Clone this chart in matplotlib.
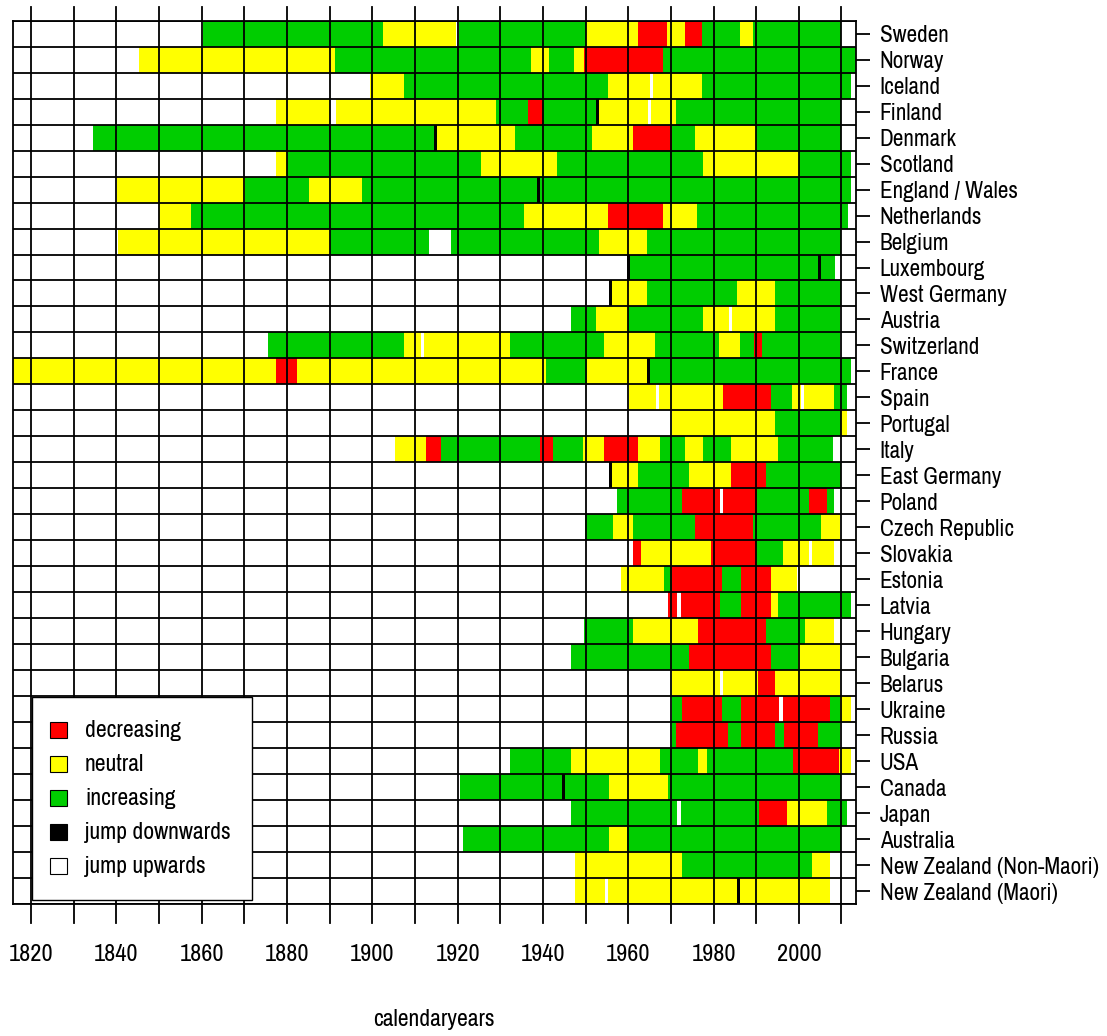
import os
import numpy as np
import matplotlib
matplotlib.use("Agg")
import matplotlib.pyplot as plt
from matplotlib import font_manager
from matplotlib.font_manager import FontProperties
from matplotlib.patches import Rectangle


def pick_narrow_font():
    # narrowest regular sans face on the system, else plain Liberation Sans
    order = {'narrow': 0, 'condensed': 1, 'extra-condensed': 2, 'semi-condensed': 3}
    best = None
    for f in font_manager.fontManager.ttflist:
        base = os.path.basename(f.fname).lower()
        if any(k in base for k in ('mono', 'serif', 'cjk', 'bold', 'italic', 'oblique',
                                    'light', 'thin', 'medium', 'black', 'semi', 'extrabold')
               ) and 'semicondensed' not in base:
            continue
        if f.style != 'normal' or f.weight not in (400, 'normal', 'regular'):
            continue
        if 'narrow' in base:
            rank = order['narrow']
        elif f.stretch in order:
            rank = order[f.stretch]
        else:
            continue
        if best is None or rank < best[0]:
            best = (rank, f.fname)
    if best:
        return FontProperties(fname=best[1])
    return FontProperties(family=['Liberation Sans', 'DejaVu Sans'])


countries = ["Sweden", "Norway", "Iceland", "Finland", "Denmark", "Scotland",
             "England / Wales", "Netherlands", "Belgium", "Luxembourg",
             "West Germany", "Austria", "Switzerland", "France", "Spain",
             "Portugal", "Italy", "East Germany", "Poland", "Czech Republic",
             "Slovakia", "Estonia", "Latvia", "Hungary", "Bulgaria", "Belarus",
             "Ukraine", "Russia", "USA", "Canada", "Japan", "Australia",
             "New Zealand (Non-Maori)", "New Zealand (Maori)"]

# trend periods per country: (start year, state); state None closes the period
# d = decreasing, n = neutral, i = increasing
periods = [
    [(1860.4, 'i'), (1902.4, 'n'), (1920.4, 'i'), (1950.2, 'n'), (1962.3, 'd'), (1969.1, 'n'),
     (1973.4, 'd'), (1977.4, 'i'), (1986.3, 'n'), (1989.3, 'i'), (2010.0, None)],
    [(1845.4, 'n'), (1891.3, 'i'), (1937.3, 'n'), (1941.4, 'i'), (1947.3, 'n'), (1949.6, 'd'),
     (1968.2, 'i'), (2014.5, None)],
    [(1899.5, 'n'), (1907.5, 'i'), (1955.3, 'n'), (1977.4, 'i'), (2012.3, None)],
    [(1877.4, 'n'), (1890.1, None), (1891.6, 'n'), (1929.1, 'i'), (1936.6, 'd'), (1940.1, 'i'),
     (1952.8, 'n'), (1971.2, 'i'), (2010.0, None)],
    [(1834.5, 'i'), (1915.0, 'n'), (1933.4, 'i'), (1951.6, 'n'), (1961.2, 'd'), (1970.2, 'i'),
     (1975.6, 'n'), (1989.9, 'i'), (2010.0, None)],
    [(1877.4, 'n'), (1880.1, 'i'), (1925.5, 'n'), (1943.4, 'i'), (1977.6, 'n'), (2000.0, 'i'),
     (2012.3, None)],
    [(1840.2, 'n'), (1870.2, 'i'), (1885.2, 'n'), (1897.5, 'i'), (2012.3, None)],
    [(1850.1, 'n'), (1857.5, 'i'), (1935.5, 'n'), (1955.3, 'd'), (1968.2, 'n'), (1976.2, 'i'),
     (2011.5, None)],
    [(1840.5, 'n'), (1890.1, 'i'), (1913.4, None), (1918.4, 'i'), (1953.2, 'n'), (1964.4, 'i'),
     (2010.0, None)],
    [(1960.2, 'i'), (2008.4, None)],
    [(1956.2, 'n'), (1964.4, 'i'), (1985.5, 'n'), (1994.4, 'i'), (2010.0, None)],
    [(1946.6, 'i'), (1952.4, 'n'), (1960.0, 'i'), (1977.6, 'n'), (1994.4, 'i'), (2009.6, None)],
    [(1875.6, 'i'), (1907.5, 'n'), (1932.3, 'i'), (1954.4, 'n'), (1966.2, 'i'), (1981.3, 'n'),
     (1986.3, 'i'), (1989.5, 'd'), (1991.4, 'i'), (2009.6, None)],
    [(1814.0, 'n'), (1877.4, 'd'), (1882.3, 'n'), (1940.8, 'i'), (1950.4, 'n'), (1964.8, 'i'),
     (2012.3, None)],
    [(1960.2, 'n'), (1982.3, 'd'), (1993.4, 'i'), (1998.5, 'n'), (2008.3, 'i'), (2011.4, None)],
    [(1970.2, 'n'), (1994.4, 'i'), (2009.8, 'n'), (2011.4, None)],
    [(1905.3, 'n'), (1912.6, 'd'), (1916.2, 'i'), (1939.3, 'd'), (1942.3, 'i'), (1949.4, 'n'),
     (1954.4, 'd'), (1962.3, 'n'), (1967.4, 'i'), (1973.3, 'n'), (1977.6, 'i'), (1984.2, 'n'),
     (1995.2, 'i'), (2008.1, None)],
    [(1956.2, 'n'), (1962.3, 'i'), (1974.3, 'n'), (1984.2, 'd'), (1992.3, 'i'), (2009.9, None)],
    [(1957.4, 'i'), (1972.5, 'd'), (1990.1, 'i'), (2002.4, 'd'), (2006.5, 'i'), (2008.2, None)],
    [(1949.8, 'i'), (1956.5, 'n'), (1961.2, 'i'), (1975.6, 'd'), (1989.2, 'i'), (2005.3, 'n'),
     (2009.6, None)],
    [(1961.2, 'd'), (1963.1, 'n'), (1979.5, 'd'), (1990.0, 'i'), (1996.3, 'n'), (2008.3, None)],
    [(1958.4, 'n'), (1968.5, 'i'), (1970.3, 'd'), (1982.0, 'i'), (1986.5, 'd'), (1993.4, 'n'),
     (1999.6, None)],
    [(1969.4, 'd'), (1981.5, 'i'), (1986.5, 'd'), (1993.4, 'n'), (1995.2, 'i'), (2012.3, None)],
    [(1949.7, 'i'), (1961.2, 'n'), (1976.4, 'd'), (1992.3, 'i'), (2001.4, 'n'), (2008.3, None)],
    [(1946.7, 'i'), (1974.3, 'd'), (1993.4, 'i'), (1999.8, 'n'), (2009.6, None)],
    [(1970.2, 'n'), (1990.5, 'd'), (1994.4, 'n'), (2009.6, None)],
    [(1970.2, 'i'), (1972.5, 'd'), (1982.1, 'i'), (1986.5, 'd'), (2007.3, 'i'), (2009.6, 'n'),
     (2012.3, None)],
    [(1970.2, 'i'), (1971.3, 'd'), (1983.4, 'i'), (1986.5, 'd'), (1994.5, 'i'), (1996.5, 'd'),
     (2004.5, 'i'), (2009.6, None)],
    [(1932.3, 'i'), (1946.7, 'n'), (1967.4, 'i'), (1976.4, 'n'), (1978.4, 'i'), (1998.6, 'd'),
     (2009.5, 'n'), (2012.3, None)],
    [(1920.5, 'i'), (1955.4, 'n'), (1969.4, 'i'), (2009.8, None)],
    [(1946.6, 'i'), (1990.6, 'd'), (1997.3, 'n'), (2006.5, 'i'), (2011.4, None)],
    [(1921.3, 'i'), (1955.4, 'n'), (1959.8, 'i'), (2010.0, None)],
    [(1947.6, 'n'), (1972.5, 'i'), (2003.0, 'n'), (2007.3, None)],
    [(1947.6, 'n'), (2007.3, None)],
]

# level shifts (single years)
jumps_down = {"Finland": [1952.8], "Denmark": [1914.8], "England / Wales": [1938.9],
              "Luxembourg": [1960.0, 2004.9], "West Germany": [1955.9], "France": [1964.8],
              "East Germany": [1955.9], "Canada": [1944.8], "New Zealand (Maori)": [1985.8]}
jumps_up = {"Sweden": [1919.9], "Iceland": [1965.5], "Finland": [1965.0], "Austria": [1984.0],
            "Switzerland": [1911.8], "Spain": [1966.9, 2000.8], "Poland": [1981.8],
            "Slovakia": [2002.8], "Latvia": [1971.9], "Belarus": [1981.8], "Ukraine": [1995.8],
            "Japan": [1971.9], "New Zealand (Maori)": [1954.9]}

state_colors = {'d': '#FF0000', 'n': '#FFFF00', 'i': '#00CD00'}
legend_labels = ["decreasing", "neutral", "increasing", "jump downwards", "jump upwards"]
legend_colors = ['#FF0000', '#FFFF00', '#00CD00', 'black', 'white']

fig = plt.figure(figsize=(11.07, 10.36), dpi=100)
ax = fig.add_axes([0.01147, 0.12741, 0.76179, 0.85261])
renderer = fig.canvas.get_renderer()
fp = pick_narrow_font()


def fit_size(text, width_px, max_pt):
    # font size giving the wanted text width, capped at max_pt
    t = fig.text(0, 0, text, fontproperties=fp, fontsize=10)
    w = t.get_window_extent(renderer=renderer).width
    t.remove()
    return min(max_pt, 10 * width_px / w)


for row, per in enumerate(periods):
    for (start, state), (end, _) in zip(per[:-1], per[1:]):
        if state is None:
            continue
        ax.barh(row + 0.5, end - start, left=start, height=1.0,
                color=state_colors[state], linewidth=0, zorder=1)

jw = 0.75
for name, years in jumps_down.items():
    r = countries.index(name)
    for yr in years:
        ax.barh(r + 0.5, jw, left=yr - jw / 2, height=1.0, color='black', linewidth=0, zorder=2)
for name, years in jumps_up.items():
    r = countries.index(name)
    for yr in years:
        ax.barh(r + 0.5, jw, left=yr - jw / 2, height=1.0, color='white', linewidth=0, zorder=2)

# grid: rows and decades
for r in range(len(countries) + 1):
    ax.axhline(r, color='black', lw=1.3, zorder=3)
for yr in range(1820, 2011, 10):
    ax.axvline(yr, ymin=-0.0215, ymax=1.0155, color='black', lw=1.3, zorder=3, clip_on=False)

ax.set_xlim(1815.7, 2013.4)
ax.set_ylim(len(countries), 0)

ax.set_xticks(range(1820, 2001, 20))
ax.tick_params(axis='x', length=0, pad=29)
xsize = fit_size("1820", 44, 21)
for lab in ax.get_xticklabels():
    lab.set_fontproperties(fp)
    lab.set_fontsize(xsize)

ax.yaxis.tick_right()
ax.set_yticks(np.arange(len(countries)) + 0.5)
ax.set_yticklabels(countries)
ax.tick_params(axis='y', length=10, width=1.3, pad=7)
ysize = fit_size("New Zealand (Non-Maori)", 220, 18.5)
for lab in ax.get_yticklabels():
    lab.set_fontproperties(fp)
    lab.set_fontsize(ysize)

for sp in ax.spines.values():
    sp.set_linewidth(1.3)

ax.set_xlabel("calendaryears", fontproperties=fp, fontsize=fit_size("calendaryears", 123, 18),
              va='center')
ax.xaxis.set_label_coords(0.5, -0.131)

# legend box, drawn in axes fraction
lsize = fit_size("jump downwards", 146, 18)
ax.add_patch(Rectangle((0.0225, 0.0045), 0.2615, 0.2295, transform=ax.transAxes,
                       facecolor='white', edgecolor='black', lw=1.0, zorder=5, clip_on=False))
for k, (lab, col) in enumerate(zip(legend_labels, legend_colors)):
    yc = 0.1967 - k * 0.0385
    ax.add_patch(Rectangle((0.0442, yc - 0.0091), 0.0198, 0.0182, transform=ax.transAxes,
                           facecolor=col, edgecolor='black', lw=0.8, zorder=6))
    ax.text(0.0858, yc, lab, transform=ax.transAxes, fontproperties=fp, fontsize=lsize,
            va='center', ha='left', zorder=6)

fig.savefig("out.png", dpi=100)
